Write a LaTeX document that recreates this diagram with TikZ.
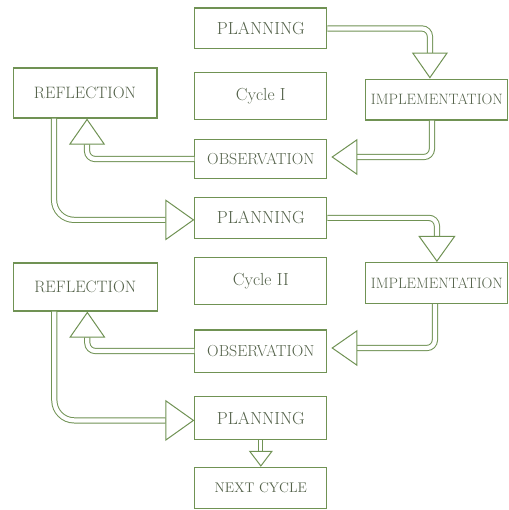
\documentclass[tikz,border=0pt]{standalone}
\usepackage{amsmath}
\usepackage{tikz}
\usetikzlibrary{arrows.meta}

\definecolor{cyclegreen}{RGB}{112,146,84}
\definecolor{cycletext}{RGB}{84,98,74}

\tikzset{
	stagebox/.style={rectangle,draw=cyclegreen,line width=1.1pt,text=cycletext,
		minimum width=4.64cm,minimum height=1.44cm,inner sep=1pt,
		font=\fontsize{17.5}{20}\selectfont},
	flowarrow/.style={draw=cyclegreen,line width=1pt,double=white,double distance=4.2pt,
		rounded corners=8pt,
		-{Triangle[open,fill=white,length=26pt,width=36pt,line width=1pt]}},
	longarrow/.style={flowarrow,rounded corners=20pt,
		-{Triangle[open,fill=white,length=29pt,width=41pt,line width=1pt]}},
}

\begin{document}
\begin{tikzpicture}
			\useasboundingbox (0,0) rectangle (17.89,-17.93);
			% cycle I
			\node[stagebox] (plan1) at (9.17,-1.00) {PLANNING};
			\node[stagebox,minimum height=1.65cm] (cyc1) at (9.17,-3.37) {Cycle I};
			\node[stagebox,minimum width=4.99cm,font=\fontsize{15}{18}\selectfont] (impl1) at (15.36,-3.50) {IMPLEMENTATION};
			\node[stagebox,minimum width=5.06cm,minimum height=1.76cm,font=\fontsize{16.5}{19}\selectfont] (refl1) at (2.99,-3.27) {REFLECTION};
			\node[stagebox,minimum height=1.34cm,font=\fontsize{16}{19}\selectfont] (obs1) at (9.17,-5.59) {OBSERVATION};
			% cycle II
			\node[stagebox] (plan2) at (9.17,-7.66) {PLANNING};
			\node[stagebox,minimum height=1.65cm] (cyc2) at (9.17,-9.89) {Cycle II};
			\node[stagebox,minimum width=4.99cm,font=\fontsize{15}{18}\selectfont] (impl2) at (15.36,-9.95) {IMPLEMENTATION};
			\node[stagebox,minimum width=5.06cm,minimum height=1.69cm,font=\fontsize{16.5}{19}\selectfont] (refl2) at (3.00,-10.09) {REFLECTION};
			\node[stagebox,minimum height=1.48cm,font=\fontsize{16}{19}\selectfont] (obs2) at (9.17,-12.34) {OBSERVATION};
			% next
			\node[stagebox,minimum height=1.51cm] (plan3) at (9.17,-14.71) {PLANNING};
			\node[stagebox,font=\fontsize{14}{17}\selectfont] (next) at (9.17,-17.15) {NEXT CYCLE};
			
			\path[flowarrow] (plan1.east) -| ([xshift=-7pt]impl1.north);
			\path[flowarrow,shorten >=4pt] ([xshift=-5pt]impl1.south) |- ([yshift=2pt]obs1.east);
			\path[flowarrow] (obs1.west) -| ([xshift=2pt]refl1.south);
			\path[longarrow] ([xshift=-31pt]refl1.south) |- ([yshift=-2pt]plan2.west);
			
			\path[flowarrow,-{Triangle[open,fill=white,length=26pt,width=37pt,line width=1pt]}] (plan2.east) -| (impl2.north);
			\path[flowarrow,shorten >=4pt] ([xshift=-2pt]impl2.south) |- ([yshift=3pt]obs2.east);
			\path[flowarrow] (obs2.west) -| ([xshift=2pt]refl2.south);
			\path[longarrow] ([xshift=-31pt]refl2.south) |- ([yshift=-2pt]plan3.west);
			
			\path[flowarrow,double distance=3pt,-{Triangle[open,fill=white,length=16pt,width=24pt,line width=1pt]}] (plan3.south) -- (next.north);
		\end{tikzpicture}
\end{document}
